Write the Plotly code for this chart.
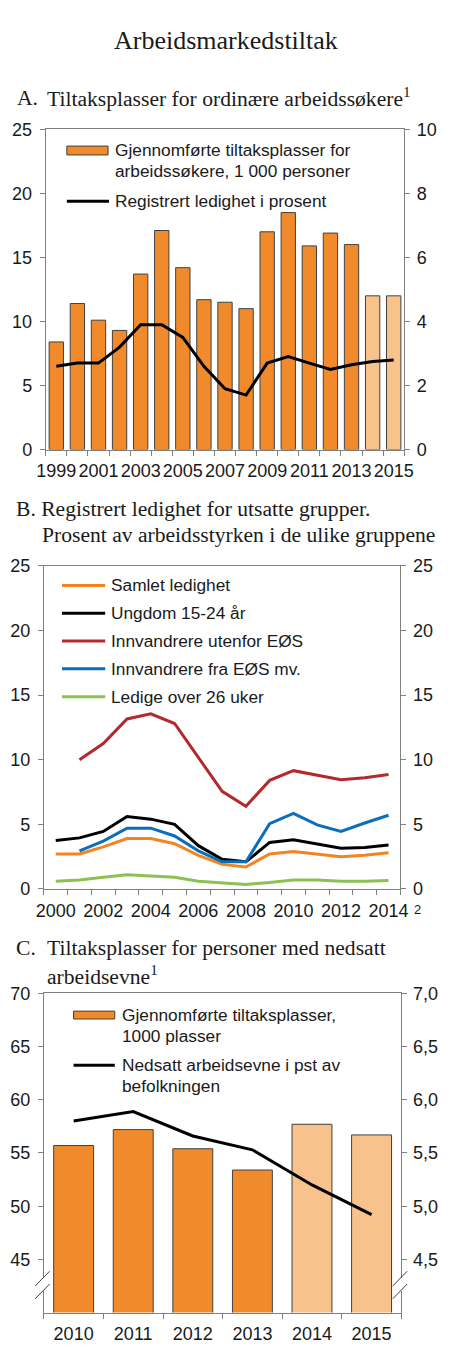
import plotly.graph_objects as go

# the page body adds an 8 px margin on every side, so the figure is sized
# to fill exactly the 450 x 1371 window together with that margin
OFF = 8
W, H = 434, 1355

# ---- data ----
years_a = list(range(1999, 2016))
tiltak_a = [8.4, 11.4, 10.1, 9.3, 13.7, 17.1, 14.2, 11.7, 11.5, 11.0,
            17.0, 18.5, 15.9, 16.9, 16.0, 12.0, 12.0]
ledighet_a = [2.6, 2.7, 2.7, 3.2, 3.9, 3.9, 3.5, 2.6, 1.9, 1.7,
              2.7, 2.9, 2.7, 2.5, 2.65, 2.75, 2.8]
prognose_a = [2014, 2015]

years_b = list(range(2000, 2015))
samlet = [2.7, 2.7, 3.25, 3.9, 3.9, 3.5, 2.6, 1.9, 1.7, 2.7, 2.9, 2.7, 2.5, 2.6, 2.8]
ungdom = [3.75, 3.95, 4.45, 5.6, 5.4, 5.0, 3.35, 2.3, 2.1, 3.6, 3.8, 3.5, 3.15, 3.2, 3.4]
utenfor_eos = [None, 10.0, 11.25, 13.15, 13.55, 12.8, 10.15, 7.55, 6.4, 8.4, 9.15, 8.8,
               8.45, 8.6, 8.85]
fra_eos = [None, 2.95, 3.7, 4.7, 4.7, 4.1, 2.95, 2.1, 2.1, 5.05, 5.85, 4.95, 4.45,
           5.1, 5.7]
over26 = [0.6, 0.7, 0.9, 1.1, 1.0, 0.9, 0.6, 0.45, 0.35, 0.5, 0.7, 0.7, 0.6, 0.6, 0.65]

years_c = list(range(2010, 2016))
tiltak_c = [55.7, 57.2, 55.4, 53.4, 57.7, 56.7]
nedsatt_c = [5.8, 5.89, 5.66, 5.53, 5.2, 4.92]
prognose_c = [2014, 2015]

ticks_c_left = [45, 50, 55, 60, 65, 70]
ticks_c_right = [4.5, 5.0, 5.5, 6.0, 6.5, 7.0]
ticktext_c_right = ["4,5", "5,0", "5,5", "6,0", "6,5", "7,0"]

# ---- style ----
ORANGE = "#F08A2B"
LIGHT = "#F8C28D"
AXIS = "#808080"
SANS = "Liberation Sans, Arial, sans-serif"
SERIF = "Liberation Serif, Times New Roman, serif"
TXT = "#1a1a1a"
HEAD = 21.6   # panel headings
LEG = 17.3    # legend texts


def px(x):
    return (x - OFF) / W


def py(y):
    return 1 - (y - OFF) / H


fig = go.Figure()

# Panel A
fig.add_trace(go.Bar(
    x=years_a, y=tiltak_a, width=0.68,
    marker=dict(color=[LIGHT if yr in prognose_a else ORANGE for yr in years_a],
                line=dict(color="#404040", width=1)),
    xaxis="x", yaxis="y", showlegend=False))
fig.add_trace(go.Scatter(
    x=years_a, y=ledighet_a, mode="lines", line=dict(color="black", width=3),
    xaxis="x", yaxis="y2", showlegend=False))

# Panel B
series_b = [
    (samlet, "#F5841F"),
    (ungdom, "#000000"),
    (utenfor_eos, "#B22A2E"),
    (fra_eos, "#0A6EBD"),
    (over26, "#8CC152"),
]
for vals, col in series_b:
    fig.add_trace(go.Scatter(
        x=years_b, y=vals, mode="lines", line=dict(color=col, width=3),
        xaxis="x2", yaxis="y3", showlegend=False))
fig.add_trace(go.Scatter(x=[None], y=[None], xaxis="x2", yaxis="y4", showlegend=False))

# Panel C
fig.add_trace(go.Bar(
    x=years_c, y=tiltak_c, width=0.67,
    marker=dict(color=[LIGHT if yr in prognose_c else ORANGE for yr in years_c],
                line=dict(color="#404040", width=1)),
    xaxis="x3", yaxis="y5", showlegend=False))
fig.add_trace(go.Scatter(
    x=years_c, y=nedsatt_c, mode="lines", line=dict(color="black", width=3),
    xaxis="x3", yaxis="y6", showlegend=False))

tickfont = dict(family=SANS, size=18, color=TXT)


def xax(domain, anchor, lo, hi, labels):
    bounds = [v + 0.5 for v in range(lo - 1, hi + 1)]
    return dict(domain=domain, anchor=anchor, range=[lo - 0.5, hi + 0.5],
                tickvals=labels, ticks="outside", ticklen=5,
                tickcolor="rgba(0,0,0,0)", showline=True, linecolor=AXIS,
                mirror=True, showgrid=False, zeroline=False, tickfont=tickfont,
                minor=dict(tickvals=bounds, ticks="outside", ticklen=5,
                           tickcolor=AXIS, showgrid=False))


def yax(domain, anchor, rng, tickvals, side="left", overlay=None, ticktext=None,
        standoff=4):
    d = dict(domain=domain, anchor=anchor, range=rng, tickvals=tickvals,
             side=side, ticks="outside", ticklen=5, tickcolor=AXIS,
             showline=True, linecolor=AXIS, showgrid=False, zeroline=False,
             tickfont=tickfont, ticklabelstandoff=standoff)
    if ticktext is not None:
        d["ticktext"] = ticktext
    if overlay:
        d["overlaying"] = overlay
    return d


dom_a_x = [px(38), px(412)]
dom_a_y = [py(446), py(121)]
dom_b_x = [px(36), px(408)]
dom_b_y = [py(892), py(564)]
dom_c_x = [px(36), px(409)]
dom_c_y = [py(1322), py(998)]

fig.update_layout(
    width=W, height=H, margin=dict(l=0, r=0, t=0, b=0),
    paper_bgcolor="white", plot_bgcolor="white", barmode="overlay",
    xaxis=xax(dom_a_x, "y", 1999, 2015, list(range(1999, 2016, 2))),
    yaxis=yax(dom_a_y, "x", [0, 25], [0, 5, 10, 15, 20, 25]),
    yaxis2=yax(dom_a_y, "x", [0, 10], [0, 2, 4, 6, 8, 10], side="right", overlay="y",
               standoff=3),
    xaxis2=xax(dom_b_x, "y3", 2000, 2014, list(range(2000, 2015, 2))),
    yaxis3=yax(dom_b_y, "x2", [0, 25], [0, 5, 10, 15, 20, 25]),
    yaxis4=yax(dom_b_y, "x2", [0, 25], [0, 5, 10, 15, 20, 25], side="right", overlay="y3",
               standoff=3),
    xaxis3=xax(dom_c_x, "y5", 2010, 2015, years_c),
    yaxis5=yax(dom_c_y, "x3", [40, 70], ticks_c_left),
    yaxis6=yax(dom_c_y, "x3", [4, 7], ticks_c_right, side="right", overlay="y5",
               ticktext=ticktext_c_right, standoff=2),
)

ann = []


def text(x, y, s, size, family, anchor="left"):
    ann.append(dict(x=px(x), y=py(y), xref="paper", yref="paper", text=s,
                    showarrow=False, xanchor=anchor, yanchor="middle",
                    font=dict(family=family, size=size, color=TXT)))


text(226, 31, "Arbeidsmarkedstiltak", 26, SERIF, anchor="center")

text(6, 89, "A.", HEAD, SERIF)
text(37, 89, "Tiltaksplasser for ordinære arbeidssøkere<sup>1</sup>", HEAD, SERIF)

text(5, 506, "B. Registrert ledighet for utsatte grupper.", HEAD, SERIF)
text(32, 533, "Prosent av arbeidsstyrken i de ulike gruppene", HEAD, SERIF)

text(5, 952, "C.", HEAD, SERIF)
text(37, 952, "Tiltaksplasser for personer med nedsatt", HEAD, SERIF)
text(37, 980, "arbeidsevne<sup>1</sup>", HEAD, SERIF)

text(420, 913, "2", 13, SANS)

shapes = []


def swatch_bar(x0, x1, y0, y1):
    shapes.append(dict(type="rect", xref="paper", yref="paper",
                       x0=px(x0), x1=px(x1), y0=py(y0), y1=py(y1),
                       fillcolor=ORANGE, line=dict(color="#404040", width=1)))


def swatch_line(x0, x1, y, col):
    shapes.append(dict(type="line", xref="paper", yref="paper",
                       x0=px(x0), x1=px(x1), y0=py(y), y1=py(y),
                       line=dict(color=col, width=3)))


# legend A
swatch_bar(60, 103, 138, 147)
text(108, 142, "Gjennomførte tiltaksplasser for", LEG, SANS)
text(108, 163, "arbeidssøkere, 1 000 personer", LEG, SANS)
swatch_line(60, 104, 194, "black")
text(108, 194, "Registrert ledighet i prosent", LEG, SANS)

# legend B
legend_b = ["Samlet ledighet", "Ungdom 15-24 år", "Innvandrere utenfor EØS",
            "Innvandrere fra EØS mv.", "Ledige over 26 uker"]
for i, ((vals, col), lab) in enumerate(zip(series_b, legend_b)):
    yy = 584 + i * 28.2
    swatch_line(55, 100, yy, col)
    text(104, yy, lab, LEG, SANS)

# legend C
swatch_bar(67, 110, 1016, 1024)
text(115, 1020, "Gjennomførte tiltaksplasser,", LEG, SANS)
text(115, 1041, "1000 plasser", LEG, SANS)
swatch_line(67, 110, 1071, "black")
text(115, 1071, "Nedsatt arbeidsevne i pst av", LEG, SANS)
text(115, 1092, "befolkningen", LEG, SANS)

# axis breaks in panel C
for xa in (36, 409):
    shapes.append(dict(type="rect", xref="paper", yref="paper",
                       x0=px(xa - 2), x1=px(xa + 2), y0=py(1300), y1=py(1287),
                       fillcolor="white", line=dict(width=0)))
    for dy in (0, 13):
        shapes.append(dict(type="line", xref="paper", yref="paper",
                           x0=px(xa - 9), x1=px(xa + 6), y0=py(1295 + dy), y1=py(1280 + dy),
                           line=dict(color="#404040", width=1)))

fig.update_layout(annotations=ann, shapes=shapes)
fig.write_html("out.html")
